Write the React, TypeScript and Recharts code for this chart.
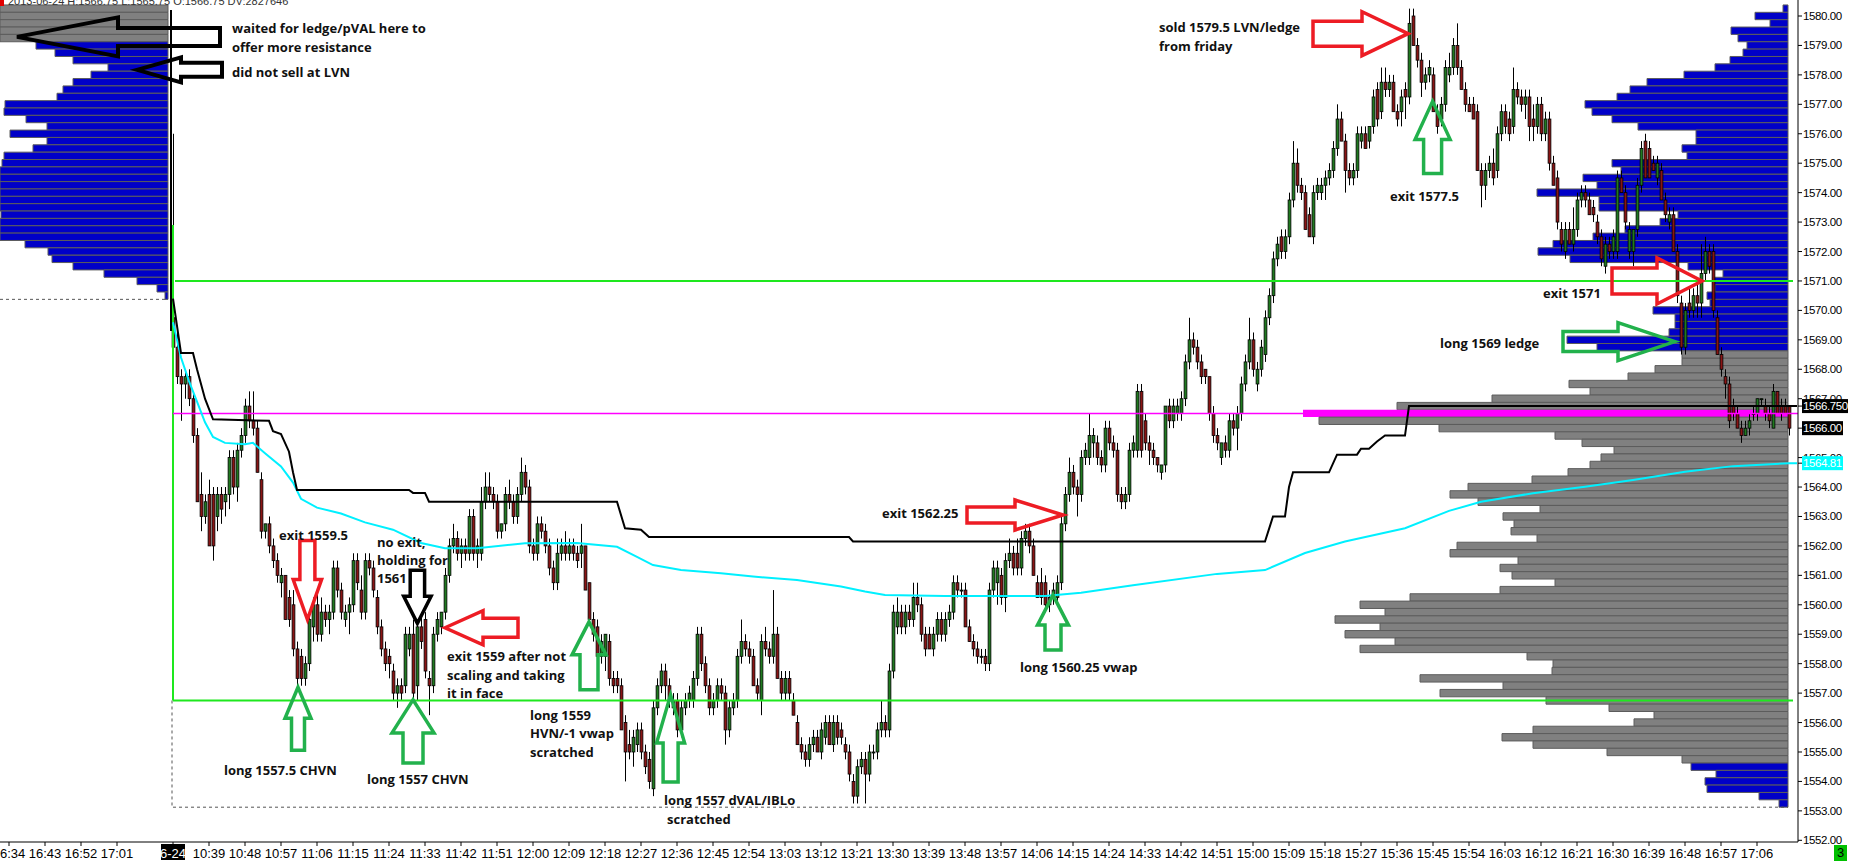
import React from 'react';
import { ComposedChart, Bar, Line, XAxis, YAxis, ReferenceArea, ReferenceLine, ReferenceDot } from 'recharts';

// ---------------- DATA ----------------
// 1-minute ES bars, 2013-06-24. minute 0 = 10:30. Values: [open, high, low, close] as offsets above BASE.
const BASE = 1500;

const bars1030 = [
  [69.75,76,68.75,68.75],[68.75,69.25,67.5,67.75],[67.75,68,66.25,67.5],[67.5,68,67,67.75],[67.75,68,66.75,67],
  [67,67.25,65.5,65.75],[65.75,66,63.5,63.5],[63.75,64.5,62.5,63],[63,63.75,62.75,63.5],[63.75,64.25,62,62],
  [63.75,64,61.5,62],[63,64,62.5,63.75],[63.75,64,62.75,63.25],[63.5,64,63,63.75],[63.75,65.25,63.25,65],
  [65,65.25,63.75,64],[64,65.5,63.5,65.25],[65.25,66,65,65.75],[65.75,67,65.5,66.75],[66.75,67.25,66,66.25],
  [66.25,67.25,65.75,66],[66,66.25,64.5,64.5],[64.25,64.5,62.25,62.5],[62.5,62.75,62.25,62.75],[62.75,63,61.75,62],
  [62,62.25,61.25,61.5],[61.5,61.75,60.75,61],[60.75,61.25,60.25,61],[61,61,59.5,59.5],[60.25,60.5,59.25,59.5],
  [60,60.5,58.25,58.5],[58.5,58.75,57.25,57.5],[58.25,58.5,57.25,57.5],[57.5,58.25,57.25,58],[58,59.75,57.75,59.5],
  [59.25,60.25,58.75,60],[60,60.5,58.75,59],[59,60.25,58.75,59.75],[59.75,60,59.25,59.5],[59.5,60,59,59.75],
  [59.75,61.5,59.5,61.25],[61.25,61.5,60.25,60.5],[60.5,60.75,59.5,59.75],[59.5,60,59.25,59.75],[59.75,60.25,59,60],
  [60,61.75,59.75,61.5],[61.5,61.75,60.5,60.75],[60.5,61,59.5,59.75],[59.75,61.75,59.5,61.5],[61.5,61.75,61,61.25],
  [61.25,61.5,60.25,60.5],[60.25,60.5,59,59.25],[59.25,59.5,58.25,58.5],[58.5,58.75,57.75,58],[58.25,58.5,57.5,58],
  [57.75,58,56.75,57],[57,57.5,56.5,57.25],[57.25,57.5,56.75,57],[57.25,59.25,57,59],[58.5,59.25,58.25,59],
];
const bars1130 = [
  [59,59.5,56.75,57],[57.25,59.5,56.75,59.25],[59.25,59.75,58.5,58.75],[59.5,59.75,57.5,57.75],[57.5,57.75,56.25,57.25],
  [57.25,59.25,57,59],[59,59.75,58.75,59.5],[59.25,59.75,59,59.75],[59.75,61.25,59.5,61],[61,62.25,60.75,62],
  [62,62.75,61.75,62.25],[62.25,62.5,61.5,61.75],[61.75,62.25,61.25,62],[62,62.25,61.5,61.75],[61.75,63.25,61.5,63],
  [63,63.25,61.5,61.75],[61.75,62.25,61.25,62],[61.75,64,61.5,63.5],[63.5,64.5,63.25,64],[64,64.5,63.5,63.75],
  [63.75,64,63.25,63.5],[63.5,63.75,62.25,62.5],[62.5,62.75,62.25,62.75],[62.75,64,62.5,63.75],[63.75,64.25,63.25,63.5],
  [63.5,63.75,62.75,63],[63,64,62.75,63.75],[63.75,65,63.5,64.5],[64.5,64.75,63.75,64],[64,64.25,61.75,62],
  [62,62.25,61.5,61.75],[61.75,63,61.5,62.75],[62.75,63,62.25,62.5],[62.5,62.75,61.75,62],[62,62.25,61,61.25],
  [61.25,61.5,60.5,60.75],[60.75,62.25,60.5,61.75],[61.75,62.25,61.5,62],[62,62.5,61.5,61.75],[61.75,62.25,61.5,62],
  [62,62.25,61.5,61.75],[61.75,62,61.25,61.5],[61.75,62.75,61.25,62],[62,62,60.5,60.5],[60.75,60.75,59.5,59.5],
  [59.5,59.75,58.75,59],[59.25,59.5,58,58.25],[58.25,59,58,58.75],[58.25,59,57.75,59],[58.75,59,57.25,57.5],
  [57.5,57.75,57,57.25],[57.5,57.75,57,57.25],[57.25,57.5,55.75,55.75],[56,56.25,54,55],[55.25,55.75,54.75,55],
  [55,55.75,54.5,55.5],[55.25,56,55,55.75],[55.75,56,54.75,55],[55,55.25,54.25,54.5],[54.75,55,53.75,54],
];
const bars1230 = [
  [53.75,56.75,53.5,56.5],[56.5,57.5,56.25,57.25],[57.25,58,57,57.75],[57.75,58,56.75,57.25],[57.25,57.5,56.5,56.75],
  [56.75,57,56.25,56.5],[56.75,57,55.5,55.75],[55.75,56.75,55.5,56.5],[56.5,57,56.25,56.75],[56.75,57.25,56.5,57],
  [56.75,57.75,56.5,57.5],[57.5,59.25,57.25,59],[59,59.25,57.75,58],[58,58.25,57,57.25],[57.25,57.5,56.25,56.5],
  [56.5,57,56.25,56.75],[56.75,57.5,56.5,57.25],[57.25,57.5,56.75,57],[57,57.25,55.25,55.75],[55.75,56.75,55.5,56.5],
  [56.5,57,56.25,56.75],[56.75,58.5,56.5,58.25],[58.25,59.5,58,58.75],[58.75,59,58.25,58.5],[58.5,58.75,58,58.25],
  [58.25,58.5,57.25,57.25],[57.25,57.5,56.75,57],[56.75,59,56.25,58.75],[58.75,59.25,58.25,58.5],[58.5,58.75,58,58.25],
  [58.25,60.5,58,59],[59,59.25,57.5,57.5],[57.5,57.75,56.75,57],[57,57.75,56.75,57.5],[57.5,57.75,56.75,57],
  [56.75,57,56.25,56.25],[56,56.25,55.25,55.25],[55.25,55.5,54.75,55],[55,55.25,54.5,54.75],[54.75,55.5,54.5,55.25],
  [55.25,55.75,55,55.5],[55.5,55.75,55,55],[55,56,54.75,55.75],[55.5,56.25,55.25,56],[56,56.25,55.25,55.25],
  [55.25,56.25,55,56],[56,56.25,55.25,55.5],[55.75,56,55.25,55.5],[55.25,55.5,54.75,55],[55,55.25,54,54.25],
  [54,54.25,53.25,53.5],[53.5,54.75,53.25,54.5],[54.5,55,54.25,54.75],[54.75,55,53.25,54.25],[54.25,55.25,54,55],
  [55,55.25,54.75,55],[55,56,54.75,55.75],[55.75,56.75,55.5,56],[56,56.25,55.5,55.75],[55.75,58,55.5,57.75],
];
const bars1330 = [
  [57.75,60,57.5,59.75],[59.25,60.25,59,59.75],[59.75,60,59,59.25],[59.25,60,59,59.75],[59.75,60,59.25,59.5],
  [59.5,60.75,59.25,60.25],[60.25,60.75,59.75,60],[60,60.25,58.75,59],[59,59.25,58.25,58.5],[59,59.25,58.5,58.5],
  [58.5,59.25,58.25,59],[59,59.75,58.75,59.5],[59.5,59.75,58.75,59],[59,59.75,58.75,59.5],[59.5,60,59.25,59.75],
  [59.75,61,59.5,60.75],[60.75,61,60.25,60.5],[60.5,60.75,60.25,60.5],[60.5,60.75,59.25,59.25],[59.25,59.5,58.75,58.75],
  [58.75,59,58.25,58.5],[58.5,58.75,58,58.25],[58.25,58.5,58,58.25],[58.25,58.5,57.75,58],[58,60.75,57.75,60.5],
  [60.5,61.5,60.25,61.25],[60.75,61.5,60,61.25],[61,61.25,60,60.25],[60.25,61.75,59.75,61.5],[61.5,62.25,61.25,61.75],
  [61.75,62,61,61.25],[61.75,62.25,61,61.25],[61.25,62.5,61,62.25],[62.25,62.75,62,62.5],[62.5,62.75,61.75,62],
  [62,62.25,61,61],[60.75,61,60.25,60.25],[60.75,61.25,60,60.25],[60.75,61,59.75,60],[60.25,60.5,59.75,60],
  [60.25,60.75,60,60.5],[60.25,61,60,60.75],[60.75,63,60.5,62.75],[62.75,64,62.5,63.75],[63.75,65,63.5,64.5],
  [64.5,64.75,63.75,64],[64,64.25,63,63.75],[63.75,65.25,63.5,65],[65,65.5,64.75,65.25],[65,66.5,64.75,65.75],
  [65.5,66,65,65.75],[65.5,65.75,64.75,65],[65,65.25,64.5,64.75],[64.75,66.25,64.5,66],[66,66.25,65.25,65.5],
  [65.5,65.75,65,65.25],[65.25,65.5,63.5,63.75],[63.75,64,63.25,63.5],[63.5,64,63.25,63.75],[63.75,65.5,63.5,65.25],
];
const bars1430 = [
  [65.25,65.75,65,65.5],[65.25,67.5,65,67.25],[67.25,67.5,65,65.25],[66.25,66.5,65.25,65.5],[65.5,65.75,64.75,65.25],
  [65.25,65.5,64.75,65],[65,65,64.5,64.75],[64.5,64.75,64.25,64.75],[64.75,66.75,64.5,66.75],[66.75,67,66,66.25],
  [66.25,67,66,66.75],[66.5,67,66.25,66.75],[66.5,67.25,66.25,67],[67,68.5,66.75,68.25],[68.25,69.75,68,69],
  [69,69.25,68.5,68.75],[68.75,69,68,68.25],[68.25,68.5,67.5,67.75],[68,68,67.5,67.75],[67.75,67.75,66.25,66.5],
  [66.5,66.75,65.5,65.75],[65.75,66,65.25,65.5],[65,65.5,64.75,65.5],[65.5,65.75,65,65.25],[65.25,66.5,65,66.25],
  [66.25,66.5,65.75,66],[66,66.75,65.25,66.5],[66.5,67.75,66.25,67.5],[67.5,68.5,67.25,68.25],[68.25,69.75,68,69],
  [69,69.25,67.75,68],[67.5,68.25,67.25,68],[68,69,67.75,68.75],[68.5,70,68.25,69.75],[69.75,70.75,69.5,70.5],
  [70.5,72,70.25,71.75],[71.75,72.5,71.5,72.25],[72.5,72.75,71.75,72],[72,72.75,71.75,72.5],[72.5,74,72.25,73.75],
  [73.75,75.75,73.5,75],[75,75.5,74,74.25],[74.25,74.5,73.75,74],[74,74.25,72.75,72.75],[73.25,73.5,72.5,72.5],
  [72.5,74.25,72.25,74],[74,74.5,73.75,74.25],[74,74.5,73.75,74.25],[74.25,74.75,73.75,74.5],[74.5,75,74.25,74.75],
  [74.75,75.75,74.5,75.5],[75.5,77,75.25,76.5],[76.5,76.75,75.75,75.75],[75.75,76,74,74.75],[74.75,75,74.25,74.5],
  [74.5,75,74.25,74.75],[74.75,76.25,74.5,76],[75.75,76.25,75.5,76],[76,76.25,75.5,75.5],[75.75,76.25,75.5,76.25],
];
const bars1530 = [
  [76.25,77.5,76,77.25],[77.5,77.75,76.25,76.5],[76.75,78.25,76.5,77.75],[77.75,78.25,77.25,77.5],[77.5,78,77.25,77.75],
  [77.75,78,76.75,76.75],[76.75,77,76.25,76.5],[76.75,77.5,76.25,77.25],[77.5,77.75,76.5,77.25],[77.25,80.25,77,79.75],
  [80,80.25,79,79],[79,79.25,78.25,78.5],[78.5,78.75,77.25,77.75],[77.75,78.25,77.5,78],[78,78.5,77.75,78.25],
  [78,78.25,76.75,76.75],[76.75,77,76,76.25],[76.5,77.25,76.25,77],[77,78.5,76.75,78.25],[78,78.75,77.75,78.25],
  [78.25,79.25,78,79],[79,79.75,78,78.25],[78.25,78.5,77.5,77.5],[77.5,77.75,76.75,77],[77,77.25,76.75,76.75],
  [77,77.25,76.5,76.5],[76.75,77,74.75,74.75],[74.75,75,73.5,74.25],[74.25,75,73.75,74.75],[74.75,75.25,74.5,75],
  [75,75.5,74.25,74.5],[74.75,76.25,74.5,76],[76,77,75.75,76.75],[76.75,77,76,76.25],[76.5,76.75,75.75,76],
  [76.25,78.25,76,77.5],[77.5,77.75,77,77.25],[77.25,77.5,76.75,77],[77,77.5,76.5,77.25],[77.25,77.5,75.75,76.25],
  [76.5,77,75.75,76.25],[76.25,77.25,76,77],[77,77.25,75.75,76],[76,76.75,75.75,76.5],[76.5,76.75,74.75,75],
  [75,75.25,74.25,74.25],[74.5,74.75,72.75,73],[72.75,73,72,72.25],[72,73,71.75,72.75],[72.75,73,72.25,72.25],
  [72.25,73.5,72,72.75],[72.75,74,72.5,73.75],[73.75,74.25,73.5,74],[74,74.25,73.5,73.75],[73.75,74,73.25,73.25],
  [73.5,73.75,73,73.25],[73,73.25,72.25,72.5],[72.5,72.75,71.5,71.75],[71.5,72.5,71.25,72.25],[72.25,72.5,71.75,72],
];
const bars1630 = [
  [72,72.75,71.75,72.5],[72,74.75,71.75,74.5],[74.5,74.75,74,74],[74,74.25,72.75,73],[72,73,71.75,72.75],
  [72,72.75,71.5,72.75],[72.75,74.5,72.5,74.25],[74.25,75.75,74,75.5],[75.75,76,74.5,74.5],[75.5,75.75,74.5,74.5],
  [75,75.25,74.75,74.75],[74.5,75.25,74.25,75],[74.75,75,73.75,73.75],[73.75,74,73,73.25],[73,73.5,72.75,73.25],
  [73.25,73.5,72,72],[72,72.25,70.25,70.5],[70.25,70.5,68.5,68.75],[68.75,70.25,68.5,70],[70.25,70.75,69.75,70],
  [70,70.75,69.75,70.5],[70.5,71,69.75,70.25],[70.25,72.25,69.75,71.25],[71.25,72.5,71,72],[72,72.25,71.25,71.5],
  [72,72.25,69.75,70],[69.75,70,68.5,68.5],[68.5,68.75,67.75,68],[67.75,68,67,67.5],[67.5,67.75,66,66.25],
  [66.75,67,66.25,66.5],[66.5,66.75,66,66],[66,66.25,65.5,65.75],[65.75,66.25,65.75,66],[66,66.5,65.75,66.25],
  [66.5,66.75,66.25,66.5],[66.5,67,66.25,67],[67,67,66.75,67],[66.75,67,66.25,66.5],[66.5,66.75,66,66.25],
  [66,67.5,66,67.25],[67.25,67.25,66.5,66.5],[66.75,67,66.25,66.5],[66.75,67,66.5,66.5],[66.75,66.75,65.75,66],
];

// VWAP (cyan) and developing value line (black): [minute, price]
const vwapPoints = [
  [0,1569.6],[2,1568.4],[4,1567.6],[6,1566.9],[8,1566.2],[10,1565.7],[13,1565.5],[18,1565.45],[20,1565.5],[23,1565.15],
  [27,1564.7],[30,1564.15],[32,1563.6],[36,1563.3],[42,1563.1],[48,1562.8],[55,1562.55],[62,1562.1],[68,1561.92],[76,1561.92],
  [88,1562.09],[101,1562.1],[111,1561.97],[116,1561.63],[120,1561.35],[127,1561.18],[137,1561.07],[145,1560.96],[156,1560.84],
  [167,1560.62],[173,1560.45],[178,1560.33],[193,1560.3],[218,1560.3],[227,1560.41],[240,1560.66],[261,1561.05],[273,1561.18],
  [283,1561.76],[293,1562.15],[308,1562.6],[319,1563.19],[327,1563.5],[340,1563.79],[353,1564.01],[365,1564.24],[378,1564.52],
  [390,1564.71],[404,1564.81],[406,1564.81],
];
const devValuePoints = [
  [0,1570.4],[2,1568.55],[5,1568.55],[6,1568.0],[8,1567.0],[10,1566.3],[24,1566.25],[25,1565.9],[27,1565.8],[29,1565.2],
  [30,1564.5],[31,1563.9],[59,1563.9],[60,1563.8],[63,1563.8],[64,1563.5],[111,1563.5],[113,1562.6],[117,1562.55],[119,1562.3],
  [169,1562.3],[170,1562.15],[273,1562.15],[275,1563.0],[278,1563.0],[279,1564.0],[280,1564.5],[289,1564.5],[291,1565.1],
  [296,1565.1],[297,1565.3],[299,1565.3],[301,1565.55],[303,1565.75],[308,1565.75],[309,1566.75],[406,1566.75],
];

// Volume profiles: [price, relative volume]
const todayProfile = [
  [1580.25,5],[1580,33],[1579.75,18],[1579.5,57],[1579.25,50],[1579,41],[1578.75,45],[1578.5,58],[1578.25,73],[1578,104],
  [1577.75,141],[1577.5,158],[1577.25,171],[1577,203],[1576.75,196],[1576.5,176],[1576.25,150],[1576,92],[1575.75,92],
  [1575.5,106],[1575.25,101],[1575,176],[1574.75,167],[1574.5,205],[1574.25,191],[1574,251],[1573.75,189],[1573.5,189],
  [1573.25,110],[1573,128],[1572.75,163],[1572.5,195],[1572.25,235],[1572,250],[1571.75,218],[1571.5,100],[1571.25,65],
  [1571,75],[1570.75,73],[1570.5,81],[1570.25,78],[1570,135],[1569.75,113],[1569.5,113],[1569.25,119],[1569,221],
  [1568.75,191],[1568.5,106],[1568.25,106],[1568,133],[1567.75,160],[1567.5,219],[1567.25,198],[1567,296],[1566.75,391],
  [1566.5,485],[1566.25,469],[1566,349],[1565.75,233],[1565.5,206],[1565.25,174],[1565,187],[1564.75,198],[1564.5,220],
  [1564.25,256],[1564,320],[1563.75,338],[1563.5,310],[1563.25,248],[1563,285],[1562.75,274],[1562.5,277],[1562.25,251],
  [1562,331],[1561.75,338],[1561.5,270],[1561.25,288],[1561,276],[1560.75,233],[1560.5,288],[1560.25,378],[1560,428],
  [1559.75,403],[1559.5,453],[1559.25,408],[1559,443],[1558.75,393],[1558.5,428],[1558.25,261],[1558,235],[1557.75,236],
  [1557.5,368],[1557.25,285],[1557,348],[1556.75,242],[1556.5,179],[1556.25,134],[1556,154],[1555.75,255],[1555.5,286],
  [1555.25,255],[1555,181],[1554.75,106],[1554.5,97],[1554.25,72],[1554,83],[1553.75,81],[1553.5,29],[1553.25,9],
];
const prevProfile = [
  [1580.25,200],[1580,200],[1579.75,200],[1579.5,200],[1579.25,200],[1579,132],[1578.75,113],[1578.5,95],[1578.25,60],
  [1578,77],[1577.75,95],[1577.5,105],[1577.25,111],[1577,163],[1576.75,164],[1576.5,142],[1576.25,121],[1576,158],
  [1575.75,121],[1575.5,135],[1575.25,164],[1575,166],[1574.75,175],[1574.5,180],[1574.25,172],[1574,178],[1573.75,185],
  [1573.5,176],[1573.25,167],[1573,175],[1572.75,180],[1572.5,172],[1572.25,143],[1572,120],[1571.75,116],[1571.5,95],
  [1571.25,64],[1571,31],[1570.75,11],[1570.5,3],
];
const TODAY_VAH = 1568.5;
const TODAY_VAL = 1554.75;
const TODAY_POC = 1566.5;
const PREV_VA_LOW = 1579.25;
const IB_HIGH = 1571;
const IB_LOW = 1556.75;
const OPEN_MARK_HIGH = 1572.9;
const LAST_PRICE = 1566.0;
const DEV_LAST = 1566.75;
const VWAP_LAST = 1564.81;

// Axis ticks
const xTickMinutes = [-41,-32,-23,-14,0,9,18,27,36,45,54,63,72,81,90,99,108,117,126,135,144,153,162,171,180,189,198,207,216,225,234,243,252,261,270,279,288,297,306,315,324,333,342,351,360,369,378,387,396];
const xTickLabels = ['16:34','16:43','16:52','17:01','6-24','10:39','10:48','10:57','11:06','11:15','11:24','11:33','11:42','11:51','12:00','12:09','12:18','12:27','12:36','12:45','12:54','13:03','13:12','13:21','13:30','13:39','13:48','13:57','14:06','14:15','14:24','14:33','14:42','14:51','15:00','15:09','15:18','15:27','15:36','15:45','15:54','16:03','16:12','16:21','16:30','16:39','16:48','16:57','17:06'];
const yTicks = [1552,1553,1554,1555,1556,1557,1558,1559,1560,1561,1562,1563,1564,1565,1567,1568,1569,1570,1571,1572,1573,1574,1575,1576,1577,1578,1579,1580];
const yMarkerTicks = [DEV_LAST, LAST_PRICE, VWAP_LAST];

// Annotations: text placed at [minute, price]
const notes = [
  { m: 14.75, p: 1579.59, t: 'waited for ledge/pVAL here to' },
  { m: 14.75, p: 1578.95, t: 'offer more resistance' },
  { m: 14.75, p: 1578.1, t: 'did not sell at LVN' },
  { m: 246.5, p: 1579.63, t: 'sold 1579.5 LVN/ledge' },
  { m: 246.5, p: 1578.98, t: 'from friday' },
  { m: 304.25, p: 1573.89, t: 'exit 1577.5' },
  { m: 342.5, p: 1570.59, t: 'exit 1571' },
  { m: 316.75, p: 1568.89, t: 'long 1569 ledge' },
  { m: 177.25, p: 1563.12, t: 'exit 1562.25' },
  { m: 211.75, p: 1557.89, t: 'long 1560.25 vwap' },
  { m: 122.75, p: 1553.37, t: 'long 1557 dVAL/IBLo' },
  { m: 123.5, p: 1552.72, t: 'scratched' },
  { m: 89.25, p: 1556.26, t: 'long 1559' },
  { m: 89.25, p: 1555.65, t: 'HVN/-1 vwap' },
  { m: 89.25, p: 1555.0, t: 'scratched' },
  { m: 68.5, p: 1558.26, t: 'exit 1559 after not' },
  { m: 68.5, p: 1557.61, t: 'scaling and taking' },
  { m: 68.5, p: 1557.0, t: 'it in face' },
  { m: 51, p: 1562.13, t: 'no exit,' },
  { m: 51, p: 1561.52, t: 'holding for' },
  { m: 51, p: 1560.91, t: '1561' },
  { m: 26.5, p: 1562.37, t: 'exit 1559.5' },
  { m: 12.75, p: 1554.39, t: 'long 1557.5 CHVN' },
  { m: 48.5, p: 1554.08, t: 'long 1557 CHVN' },
];
// Arrows: tip at [minute, price]; sizes in px
const arrows = [
  { m: -39, p: 1579.29, dir: 'left', len: 203, head: 101, hh: 19.5, sh: 9, c: '#000000', w: 4 },
  { m: -9, p: 1578.17, dir: 'left', len: 85, head: 44, hh: 12.5, sh: 7, c: '#000000', w: 4 },
  { m: 308.75, p: 1579.4, dir: 'right', len: 95, head: 46, hh: 22, sh: 12.5, c: '#ed1c24', w: 3.5 },
  { m: 314.9, p: 1577.1, dir: 'up', len: 72, head: 38, hh: 17.5, sh: 9, c: '#22b14c', w: 3.5 },
  { m: 382.25, p: 1571.0, dir: 'right', len: 90, head: 45, hh: 23, sh: 13, c: '#ed1c24', w: 3.5 },
  { m: 375.5, p: 1568.94, dir: 'right', len: 112, head: 57, hh: 19, sh: 10, c: '#22b14c', w: 3.5 },
  { m: 222.5, p: 1563.05, dir: 'right', len: 96, head: 48, hh: 15, sh: 8, c: '#ed1c24', w: 3.5 },
  { m: 220, p: 1560.33, dir: 'up', len: 55, head: 30, hh: 15.5, sh: 8, c: '#22b14c', w: 3.5 },
  { m: 124.4, p: 1556.94, dir: 'up', len: 87, head: 48, hh: 14, sh: 7.5, c: '#22b14c', w: 3.5 },
  { m: 104, p: 1559.42, dir: 'up', len: 68, head: 33, hh: 17, sh: 9, c: '#22b14c', w: 3.5 },
  { m: 68, p: 1559.22, dir: 'left', len: 73, head: 38, hh: 17, sh: 9.5, c: '#ed1c24', w: 3.5 },
  { m: 61.1, p: 1559.37, dir: 'down', len: 53, head: 27, hh: 13.7, sh: 7.2, c: '#000000', w: 3.5 },
  { m: 33.6, p: 1559.5, dir: 'down', len: 79, head: 40, hh: 14.2, sh: 7.5, c: '#ed1c24', w: 3.5 },
  { m: 31.25, p: 1557.2, dir: 'up', len: 63, head: 31, hh: 13, sh: 6.5, c: '#22b14c', w: 3.5 },
  { m: 60, p: 1556.77, dir: 'up', len: 63, head: 33, hh: 21, sh: 10, c: '#22b14c', w: 3.5 },
];

// ---------------- LAYOUT / STYLE ----------------
const X_MIN = -43.25;
const X_MAX = 406.25;
const Y_MIN = 1551.9425;
const Y_MAX = 1580.5435;
const TODAY_ANCHOR = 403.75;
const PREV_ANCHOR = -1.25;
const VOL_TO_MIN = 0.25;
const UP = '#1f7a1f';
const DOWN = '#8a1414';
const BLUE = '#0000c8';
const GRAY = '#808080';
const ROW_EDGE = '#5c5c5c';
const NOTE_FONT = "'Open Sans', 'Noto Sans', sans-serif";
const AXIS_FONT = "'Liberation Sans', Arial, sans-serif";

const allBars = [...bars1030, ...bars1130, ...bars1230, ...bars1330, ...bars1430, ...bars1530, ...bars1630];

function buildRows() {
  const rows = new Map<number, any>();
  allBars.forEach((b, i) => {
    const [o, h, l, c] = b.map((v) => v + BASE);
    rows.set(i, { m: i, o, h, l, c, range: [l, h] });
  });
  vwapPoints.forEach(([m, v]) => {
    const r = rows.get(m) || { m };
    r.vwap = v;
    rows.set(m, r);
  });
  devValuePoints.forEach(([m, v]) => {
    const r = rows.get(m) || { m };
    r.dev = v;
    rows.set(m, r);
  });
  return Array.from(rows.values()).sort((a, b) => a.m - b.m);
}

const Candle = (props: any) => {
  const { x, y, width, height, payload } = props;
  if (!payload || payload.o == null || x == null || y == null) return null;
  const top = Math.min(y, y + height);
  const hgt = Math.abs(height);
  const { o, h, l, c } = payload;
  const k = h > l ? hgt / (h - l) : 0;
  const cx = Math.round(x + width / 2);
  const yo = top + (h - o) * k;
  const yc = top + (h - c) * k;
  const bTop = Math.min(yo, yc);
  const bH = Math.max(Math.abs(yo - yc), 1);
  return (
    <g>
      <line x1={cx + 0.5} x2={cx + 0.5} y1={top} y2={top + hgt} stroke="#000" strokeWidth={1} />
      <rect x={cx - 0.9} y={bTop} width={2.8} height={bH} fill={c >= o ? UP : DOWN} stroke="#000" strokeWidth={0.8} />
    </g>
  );
};

const XTick = (props: any) => {
  const { x, y, payload } = props;
  const idx = xTickMinutes.indexOf(payload.value);
  const label = idx >= 0 ? xTickLabels[idx] : '';
  if (payload.value === 0) {
    return (
      <g>
        <rect x={x - 12} y={y - 4} width={24} height={16} fill="#000" />
        <text x={x} y={y + 5} textAnchor="middle" dominantBaseline="central" fontSize={13} fontFamily={AXIS_FONT} fill="#fff">{label}</text>
      </g>
    );
  }
  return (
    <text x={x} y={y + 5} textAnchor="middle" dominantBaseline="central" fontSize={13} fontFamily={AXIS_FONT} fill="#000">{label}</text>
  );
};

const YTick = (props: any) => {
  const { x, y, payload } = props;
  const v = payload.value;
  const style = { fontFamily: AXIS_FONT, fontSize: 11.5, letterSpacing: -0.4 } as any;
  if (v === DEV_LAST || v === LAST_PRICE || v === VWAP_LAST) {
    const text = v === DEV_LAST ? v.toFixed(3) : v.toFixed(2);
    const bg = v === VWAP_LAST ? '#00ffff' : '#000';
    const w = v === DEV_LAST ? 46 : 41;
    return (
      <g>
        <rect x={x - 1} y={y - 7} width={w} height={14} fill={bg} />
        <text x={x} y={y} dominantBaseline="central" fill="#fff" style={style}>{text}</text>
      </g>
    );
  }
  return (
    <text x={x} y={y} dominantBaseline="central" fill="#000" style={style}>{v.toFixed(2)}</text>
  );
};

function arrowPoints(a: any) {
  const base = [
    [0, 0], [-a.head, -a.hh], [-a.head, -a.sh], [-a.len, -a.sh], [-a.len, a.sh], [-a.head, a.sh], [-a.head, a.hh],
  ];
  return base.map(([px, py]) => {
    if (a.dir === 'left') return [-px, py];
    if (a.dir === 'up') return [py, -px];
    if (a.dir === 'down') return [py, px];
    return [px, py];
  });
}

const makeArrowShape = (a: any) => (p: any) => {
  const pts = arrowPoints(a).map(([px, py]) => `${p.cx + px},${p.cy + py}`).join(' ');
  return <polygon points={pts} fill="none" stroke={a.c} strokeWidth={a.w} strokeLinejoin="miter" />;
};

const makeNoteShape = (n: any) => (p: any) => (
  <text x={p.cx} y={p.cy} dominantBaseline="central" fontFamily={NOTE_FONT} fontWeight={700} fontSize={13} fill="#111">{n.t}</text>
);

export default function App() {
  const data = buildRows();
  const rowHalf = 0.125;

  const todayAreas = todayProfile.map(([price, vol]) => {
    const isPoc = price === TODAY_POC;
    const inVA = price <= TODAY_VAH && price >= TODAY_VAL;
    const fill = isPoc ? '#ff00ff' : inVA ? GRAY : BLUE;
    return (
      <ReferenceArea
        key={'t' + price}
        x1={Math.max(X_MIN, TODAY_ANCHOR - vol * VOL_TO_MIN)}
        x2={TODAY_ANCHOR}
        y1={price - rowHalf}
        y2={price + rowHalf}
        fill={fill}
        fillOpacity={1}
        stroke={isPoc ? 'none' : ROW_EDGE}
        strokeWidth={1}
        ifOverflow="hidden"
      />
    );
  });
  const prevAreas = prevProfile.map(([price, vol]) => (
    <ReferenceArea
      key={'p' + price}
      x1={Math.max(X_MIN, PREV_ANCHOR - vol * VOL_TO_MIN)}
      x2={PREV_ANCHOR}
      y1={price - rowHalf}
      y2={price + rowHalf}
      fill={price >= PREV_VA_LOW ? GRAY : BLUE}
      fillOpacity={1}
      stroke={ROW_EDGE}
      strokeWidth={1}
      ifOverflow="hidden"
    />
  ));

  const prevLow = prevProfile[prevProfile.length - 1][0] - rowHalf;
  const todayLow = todayProfile[todayProfile.length - 1][0] - rowHalf;

  return (
    <div style={{ position: 'relative', width: 1849, height: 862, background: '#fff', overflow: 'hidden' }}>
      <style>{'body{margin:0;background:#fff}'}</style>
      <ComposedChart width={1849} height={862} data={data} margin={{ top: 0, right: 0, bottom: 0, left: 0 }}>
        <XAxis
          dataKey="m"
          type="number"
          domain={[X_MIN, X_MAX]}
          allowDataOverflow
          ticks={xTickMinutes}
          interval={0}
          tick={<XTick />}
          tickSize={4}
          tickMargin={2}
          height={20}
          axisLine={{ stroke: '#000' }}
          tickLine={{ stroke: '#000' }}
        />
        <YAxis
          orientation="right"
          type="number"
          domain={[Y_MIN, Y_MAX]}
          allowDataOverflow
          ticks={[...yTicks, ...yMarkerTicks]}
          interval={0}
          width={51}
          tickSize={4}
          tickMargin={1}
          tick={<YTick />}
          axisLine={{ stroke: '#000' }}
          tickLine={{ stroke: '#000' }}
        />
        {prevAreas}
        {todayAreas}
        <ReferenceLine segment={[{ x: X_MIN, y: prevLow }, { x: PREV_ANCHOR, y: prevLow }]} stroke="#555" strokeDasharray="3 3" />
        <ReferenceLine segment={[{ x: 0, y: todayLow }, { x: TODAY_ANCHOR, y: todayLow }]} stroke="#555" strokeDasharray="3 3" />
        <ReferenceLine segment={[{ x: -0.25, y: IB_LOW }, { x: -0.25, y: todayLow }]} stroke="#555" strokeDasharray="3 3" />
        <ReferenceLine segment={[{ x: -0.5, y: 1569.3 }, { x: -0.5, y: 1580.2 }]} stroke="#000" strokeWidth={2} />
        <ReferenceLine segment={[{ x: 0, y: IB_LOW }, { x: 0, y: OPEN_MARK_HIGH }]} stroke="#1ee81e" strokeWidth={2} />
        <ReferenceLine segment={[{ x: 0.5, y: IB_HIGH }, { x: 405, y: IB_HIGH }]} stroke="#1ee81e" strokeWidth={2} />
        <ReferenceLine segment={[{ x: 0, y: IB_LOW }, { x: 405, y: IB_LOW }]} stroke="#1ee81e" strokeWidth={2} />
        <ReferenceLine segment={[{ x: 0, y: TODAY_POC }, { x: X_MAX, y: TODAY_POC }]} stroke="#ff00ff" strokeWidth={1.5} />
        <Bar dataKey="range" shape={Candle} isAnimationActive={false} />
        <Line dataKey="vwap" type="linear" stroke="#00f0ff" strokeWidth={2} dot={false} connectNulls isAnimationActive={false} />
        <Line dataKey="dev" type="linear" stroke="#000" strokeWidth={2} dot={false} connectNulls isAnimationActive={false} />
        {arrows.map((a, i) => (
          <ReferenceDot key={'a' + i} x={a.m} y={a.p} r={0} ifOverflow="visible" shape={makeArrowShape(a)} />
        ))}
        {notes.map((n, i) => (
          <ReferenceDot key={'n' + i} x={n.m} y={n.p} r={0} ifOverflow="visible" shape={makeNoteShape(n)} />
        ))}
      </ComposedChart>
      <svg style={{ position: 'absolute', left: 0, top: 0 }} width={420} height={10}>
        <rect x={0} y={0} width={4} height={6} fill="#e00000" />
        <text x={8} y={5} fontSize={11} fontFamily={AXIS_FONT} fill="#333">2013-06-24 H:1566.75 L:1565.75 O:1566.75 DV:2827646</text>
      </svg>
      <div style={{ position: 'absolute', left: 1834, top: 845, width: 13, height: 16, background: '#00c000', color: '#000', fontFamily: AXIS_FONT, fontSize: 13, lineHeight: '16px', textAlign: 'center' }}>3</div>
    </div>
  );
}
